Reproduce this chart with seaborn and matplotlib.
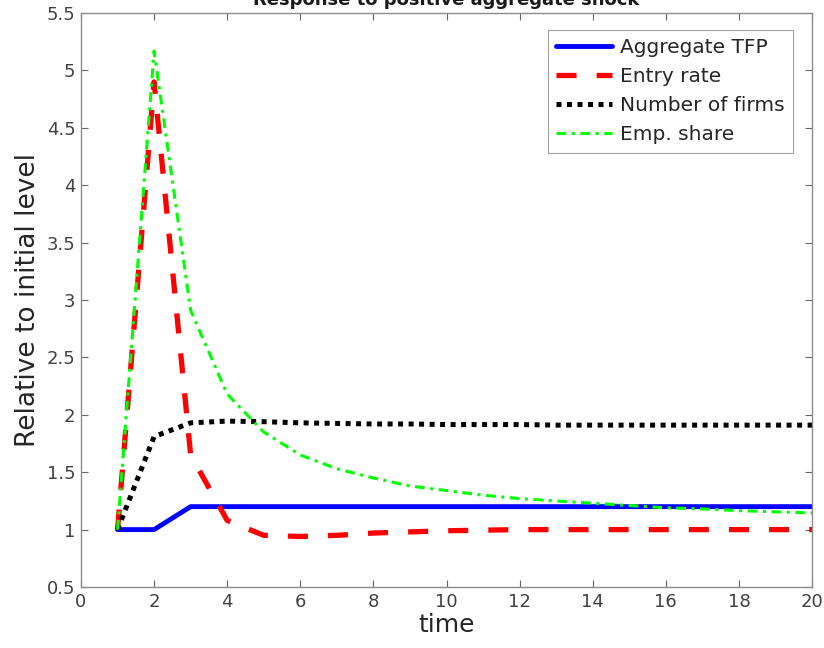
import matplotlib
matplotlib.use("Agg")
import matplotlib.pyplot as plt
import numpy as np
import pandas as pd
import seaborn as sns

# time periods after the shock
time = list(range(1, 21))

# responses, relative to initial level
tfp = [1.0, 1.0, 1.2, 1.2, 1.2, 1.2, 1.2, 1.2, 1.2, 1.2,
       1.2, 1.2, 1.2, 1.2, 1.2, 1.2, 1.2, 1.2, 1.2, 1.2]
entry_rate = [1.0, 4.9, 1.65, 1.08, 0.95, 0.94, 0.95, 0.97, 0.98, 0.99,
              0.995, 1.0, 1.0, 1.0, 1.0, 1.0, 1.0, 1.0, 1.0, 1.0]
n_firms = [1.0, 1.81, 1.93, 1.945, 1.94, 1.93, 1.925, 1.92, 1.92, 1.915,
           1.915, 1.915, 1.91, 1.91, 1.91, 1.91, 1.91, 1.91, 1.91, 1.91]
emp_share = [1.0, 5.17, 2.91, 2.18, 1.85, 1.65, 1.53, 1.45, 1.38, 1.34,
             1.30, 1.27, 1.25, 1.23, 1.21, 1.19, 1.18, 1.165, 1.155, 1.145]

series_names = ['Aggregate TFP', 'Entry rate', 'Number of firms', 'Emp. share']

df = pd.DataFrame({'time': time, 'Aggregate TFP': tfp, 'Entry rate': entry_rate,
                   'Number of firms': n_firms, 'Emp. share': emp_share})

sns.set_style("white")
plt.rcParams['font.family'] = ['DejaVu Sans']

fig = plt.figure(figsize=(8.24, 6.48), dpi=100)
ax = fig.add_axes([81 / 824, 61 / 648, 731 / 824, 574 / 648])

# colour, linewidth, linestyle for each series (MATLAB look)
styles = {
    'Aggregate TFP': ('#0000ff', 3.5, '-'),
    'Entry rate': ('#ff0000', 3.8, (0, (3.8, 3.8))),
    'Number of firms': ('#000000', 3.6, (0, (1, 1.1))),
    'Emp. share': ('#00ff00', 2.2, (0, (3.2, 1.8, 1, 1.8))),
}

for name in series_names:
    c, lw, ls = styles[name]
    sns.lineplot(data=df, x='time', y=name, ax=ax, color=c, lw=lw,
                 linestyle=ls, label=name)

ax.set_xlim(0, 20)
ax.set_ylim(0.5, 5.5)
ax.set_xticks(np.arange(0, 21, 2))
ax.set_yticks(np.arange(0.5, 5.51, 0.5))
ax.set_yticklabels(['0.5', '1', '1.5', '2', '2.5', '3', '3.5', '4', '4.5', '5', '5.5'])

for s in ax.spines.values():
    s.set_color('0.55')
    s.set_linewidth(1.0)
ax.tick_params(direction='in', length=5, width=0.8, color='0.4',
               labelsize=13, labelcolor='0.25', top=True, right=True,
               bottom=True, left=True, pad=4)

ax.set_xlabel('time', fontsize=18, color='0.15', labelpad=2)
ax.set_ylabel('Relative to initial level', fontsize=19, color='0.15', labelpad=4)
ax.set_title('Response to positive aggregate shock', fontsize=13,
             fontweight='bold', color='0.1', pad=6)

leg = ax.legend(loc='upper right', bbox_to_anchor=(0.974, 0.970),
                borderaxespad=0, fontsize=14.5, frameon=True, fancybox=False,
                handlelength=2.8, handletextpad=0.4, labelspacing=0.5,
                borderpad=0.4)
leg.get_frame().set_edgecolor('0.55')
leg.get_frame().set_linewidth(0.8)
for t in leg.get_texts():
    t.set_color('0.15')

plt.savefig('out.png', dpi=100)
